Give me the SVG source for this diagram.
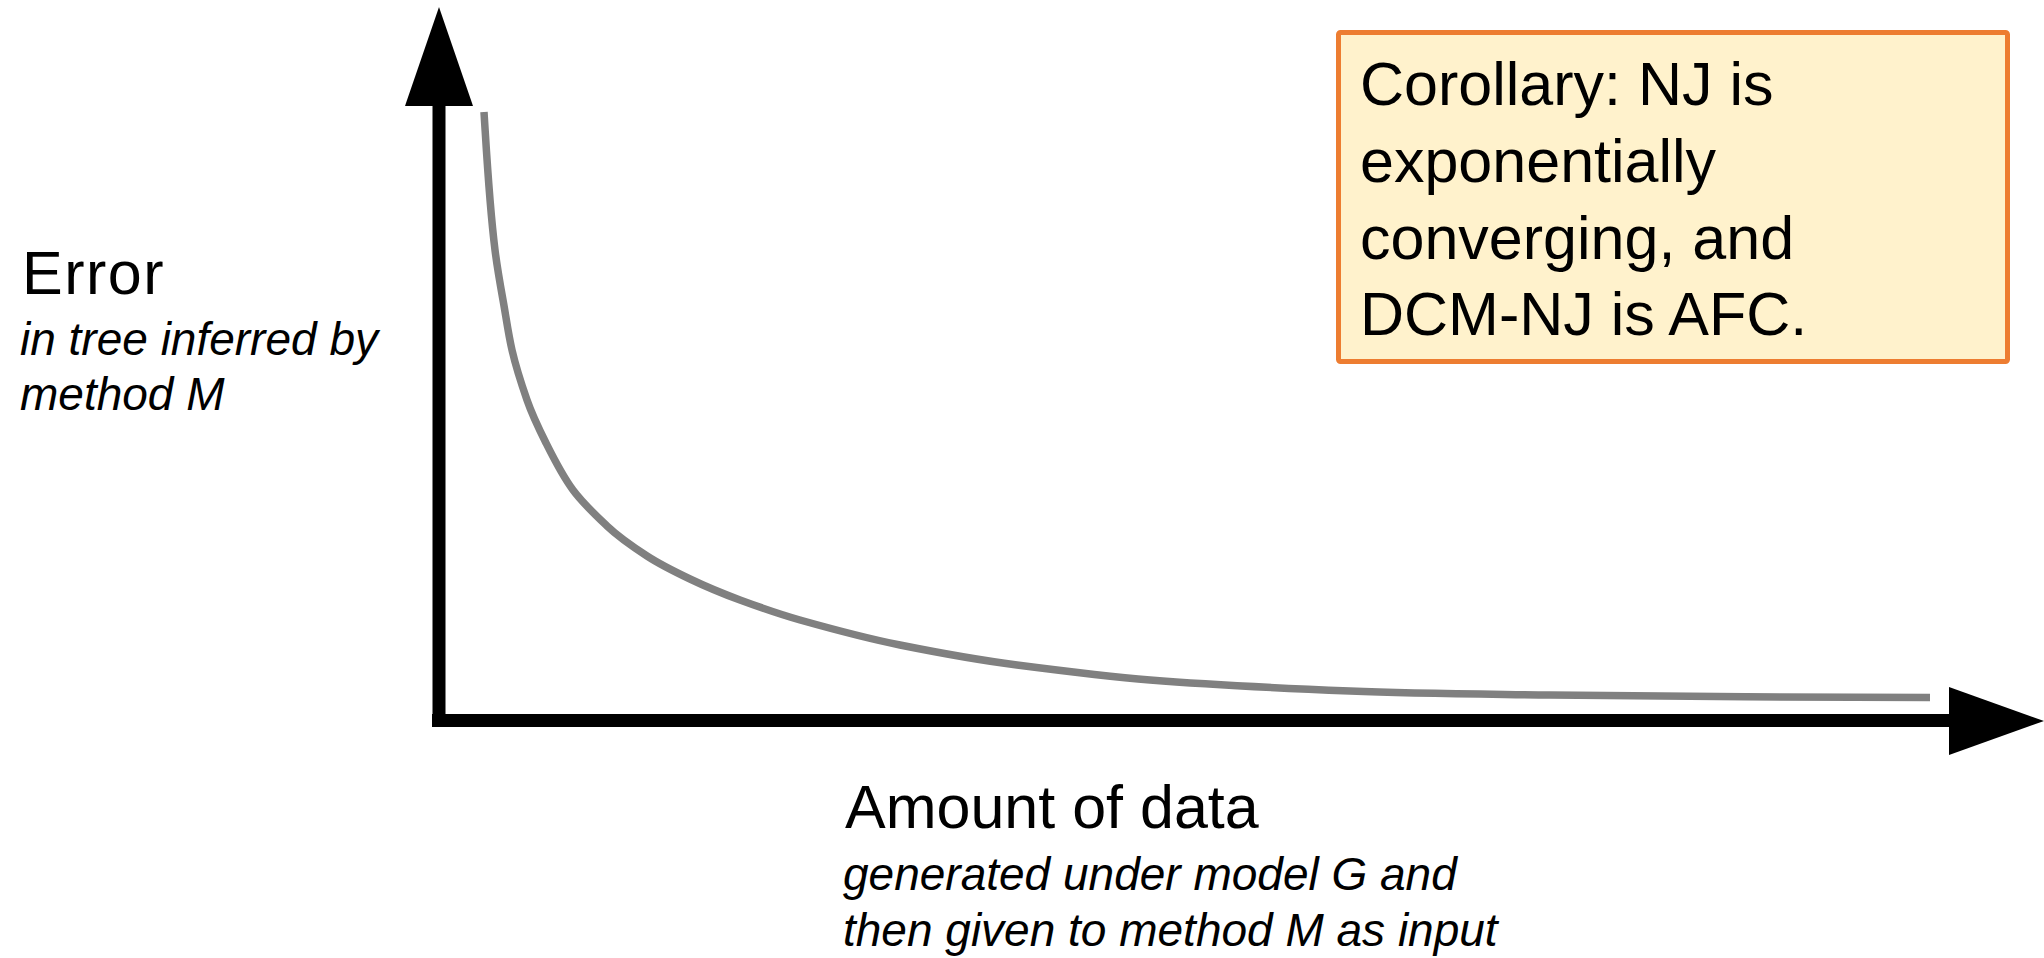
<svg xmlns="http://www.w3.org/2000/svg" width="2044" height="958" viewBox="0 0 2044 958">
  <style>
    .label { font-family: "Liberation Sans", Arial, sans-serif; fill: #000; }
    .title { font-size: 61px; }
    .sub { font-size: 46px; font-style: italic; }
    .axis { stroke: #000; stroke-width: 13; fill: none; }
    .head { fill: #000; }
    .curve { stroke: #808080; stroke-width: 7.5; fill: none; stroke-linecap: butt; stroke-linejoin: round; }
    .note { fill: #FFF2CC; stroke: #ED7D31; stroke-width: 5; }
  </style>
  <rect width="2044" height="958" fill="#fff"/>

  <!-- axes -->
  <g id="axes">
    <line class="axis" x1="439" y1="100" x2="439" y2="727"/>
    <line class="axis" x1="432" y1="720.5" x2="1955" y2="720.5"/>
    <polygon class="head" points="439,7 405,106 473,106"/>
    <polygon class="head" points="2044,721 1949,687 1949,755"/>
  </g>

  <!-- error curve: steep drop, then a long flat tail -->
  <g id="connectors">
    <path class="curve" d="M484,112
      C486.9,158 489.3,204.3 495,250
      C497.1,266.8 500,283.4 503,300
      C506,316.6 508.2,333.5 512,350
      C515.9,367 521.3,383.6 527,400
      C532.1,414.8 539,429 546,443
      C554.1,459.2 562.2,475.5 573,490
      C582.8,503.3 595,514.6 607,526
      C619.1,537.5 633,546.9 647,556
      C660.7,564.9 675.3,572 690,579
      C706.3,586.8 723,593.7 740,600
      C759.8,607.3 779.7,614.3 800,620
      C833.1,629.3 866.3,638.3 900,645
      C938.8,652.8 977.7,659.9 1017,665
      C1061.2,670.7 1105.5,676.4 1150,680
      C1216.6,685.3 1283.3,688.3 1350,691
      C1416.6,693.7 1483.3,694 1550,695
      C1676.7,696.9 1803.3,696.9 1930,697.5"/>
  </g>

  <!-- y-axis label -->
  <g id="y-label">
    <text class="label title" x="22" y="294" letter-spacing="1.5">Error</text>
    <text class="label sub" x="20" y="355">in tree inferred by</text>
    <text class="label sub" x="20" y="410">method M</text>
  </g>

  <!-- x-axis label -->
  <g id="x-label">
    <text class="label title" x="845" y="828">Amount of data</text>
    <text class="label sub" x="843" y="890">generated under model G and</text>
    <text class="label sub" x="843" y="946">then given to method M as input</text>
  </g>

  <!-- corollary note -->
  <g id="corollary">
    <rect class="note" x="1338.5" y="32.5" width="669" height="329" rx="2"/>
    <text class="label title" x="1360" y="105">Corollary: NJ is</text>
    <text class="label title" x="1360" y="182">exponentially</text>
    <text class="label title" x="1360" y="259">converging, and</text>
    <text class="label title" x="1360" y="335">DCM-NJ is AFC.</text>
  </g>
</svg>
